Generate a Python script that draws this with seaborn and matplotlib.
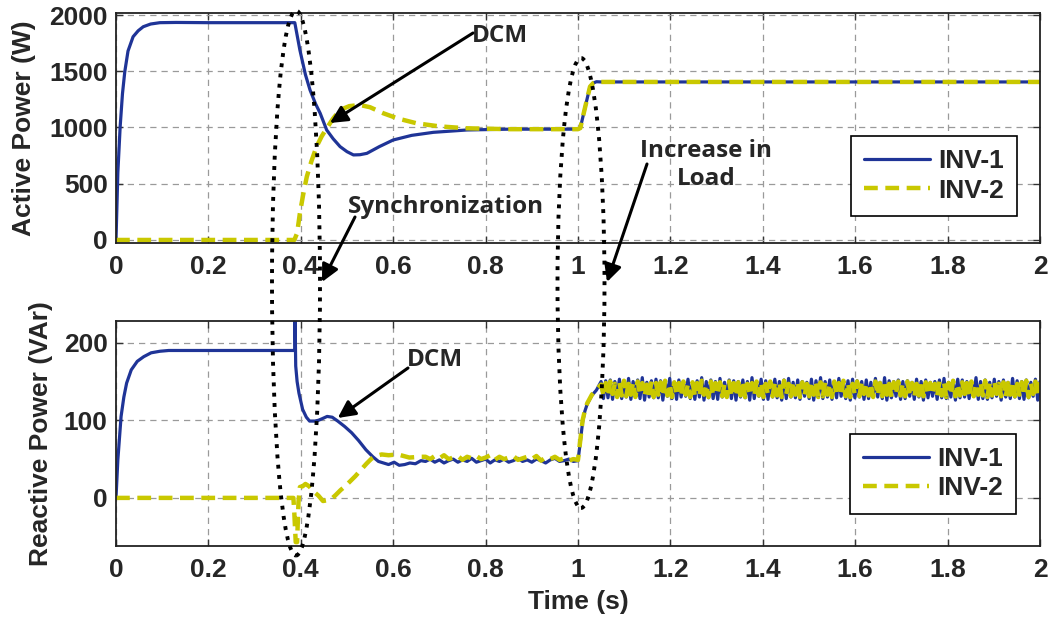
import numpy as np
import pandas as pd
import matplotlib
matplotlib.use("Agg")
import matplotlib.pyplot as plt
from matplotlib.patches import Ellipse, FancyArrowPatch
import seaborn as sns

# ---------------- Active power (W) ----------------
t_p_inv1 = [0, 0.004, 0.009, 0.014, 0.019, 0.026, 0.037, 0.048, 0.059, 0.075,
            0.095, 0.13, 0.2, 0.3, 0.387, 0.398, 0.41, 0.42, 0.432, 0.442,
            0.456, 0.47, 0.485, 0.5, 0.514, 0.528, 0.543, 0.57, 0.6, 0.64,
            0.687, 0.76, 0.85, 0.95, 1.0, 1.005, 1.012, 1.02, 1.026, 1.033,
            1.04, 1.05, 1.1, 1.3, 1.5, 1.7, 2.0]
p_inv1 = [0, 600, 1007, 1300, 1496, 1680, 1807, 1860, 1896, 1920,
          1932, 1934, 1932, 1932, 1932, 1689, 1470, 1333, 1210, 1126,
          978, 900, 830, 785, 756, 758, 770, 830, 889, 930,
          957, 978, 985, 985, 985, 995, 1120, 1260, 1363, 1395,
          1407, 1405, 1405, 1405, 1405, 1405, 1405]

t_p_inv2 = [0, 0.386, 0.392, 0.398, 0.405, 0.413, 0.423, 0.434, 0.445, 0.456,
            0.47, 0.485, 0.505, 0.528, 0.55, 0.579, 0.61, 0.651, 0.7, 0.759,
            0.85, 0.95, 1.0, 1.005, 1.012, 1.02, 1.026, 1.033, 1.04, 1.05,
            1.1, 1.3, 1.5, 1.7, 2.0]
p_inv2 = [0, 0, 60, 237, 400, 563, 700, 829, 920, 993,
          1080, 1156, 1190, 1200, 1180, 1126, 1080, 1037, 1010, 993,
          985, 985, 985, 995, 1120, 1260, 1363, 1395, 1407, 1405,
          1405, 1405, 1405, 1405, 1405]

# ---------------- Reactive power (VAr) ----------------
t_q_inv1_start = [0, 0.004, 0.011, 0.017, 0.023, 0.033, 0.046, 0.06, 0.076, 0.095,
                  0.114, 0.2, 0.3, 0.385, 0.387, 0.3875, 0.389, 0.392, 0.396, 0.404,
                  0.412, 0.419, 0.43, 0.438, 0.446, 0.457, 0.468, 0.48, 0.495, 0.51,
                  0.525, 0.541, 0.556, 0.568, 0.579, 0.59, 0.602, 0.613, 0.625, 0.636,
                  0.648, 0.66]
q_inv1_start = [0, 49, 105, 130, 148, 165, 176, 182, 187, 189,
                190, 190, 190, 190, 190, 235, 170, 150, 135, 114,
                104, 99, 99, 100, 102, 105, 104, 99, 92, 84,
                74, 62, 53, 47, 45, 43, 46, 42, 43, 45,
                44, 48]

t_q_inv2_start = [0, 0.384, 0.386, 0.389, 0.392, 0.395, 0.398, 0.404, 0.41, 0.418,
                  0.428, 0.438, 0.448, 0.458, 0.467, 0.476, 0.486, 0.496, 0.506, 0.518,
                  0.53, 0.542, 0.552, 0.562, 0.575, 0.59, 0.61, 0.635, 0.66]
q_inv2_start = [0, 0, -20, -57, -57, -5, 14, 15, 18, 15,
                8, 3, -4, -3, -1, 4, 10, 15, 21, 28,
                36, 44, 50, 54, 56, 55, 56, 52, 53]

# settled sharing before the load step (samples every 10 ms, 0.67 s .. 0.99 s)
t_settle = np.linspace(0.67, 0.99, 33)
q_inv1_settle = [47, 50, 46, 49, 45, 48, 50, 46, 49, 47, 51, 46, 48, 50, 45, 49, 47,
                 50, 46, 48, 51, 47, 49, 46, 50, 48, 45, 49, 51, 47, 48, 50, 47]
q_inv2_settle = [53, 50, 54, 51, 55, 50, 52, 54, 49, 53, 51, 54, 50, 52, 55, 49, 53,
                 50, 52, 54, 49, 51, 53, 50, 54, 48, 52, 50, 53, 49, 51, 48, 50]

# load step at t = 1 s
t_step = [1.0, 1.005, 1.01, 1.015, 1.02, 1.03, 1.04, 1.05]
q_inv1_step = [48, 72, 98, 112, 121, 132, 139, 150]
q_inv2_step = [49, 75, 100, 113, 122, 133, 140, 146]

# ripple after the load increase (1.055 s .. 2 s, 5 ms samples)
t_ripple = np.linspace(1.055, 2.0, 192)
q_inv1_ripple = [
    128, 151, 129, 152, 127, 150, 131, 153, 128, 149, 130, 154,
    127, 150, 131, 152, 128, 155, 126, 149, 130, 151, 129, 153,
    129, 151, 126, 150, 131, 154, 128, 149, 127, 152, 130, 150,
    131, 153, 128, 149, 127, 151, 130, 155, 126, 150, 129, 152,
    128, 150, 127, 154, 130, 149, 131, 152, 128, 151, 126, 150,
    130, 152, 129, 150, 126, 155, 128, 149, 131, 153, 127, 151,
    127, 149, 130, 153, 129, 150, 126, 152, 128, 154, 130, 149,
    129, 152, 127, 150, 131, 149, 128, 153, 126, 151, 130, 155,
    128, 150, 130, 152, 127, 149, 129, 154, 131, 150, 128, 151,
    126, 153, 129, 151, 130, 150, 127, 152, 128, 149, 131, 154,
    130, 149, 128, 155, 126, 151, 129, 150, 131, 152, 127, 150,
    128, 151, 131, 149, 127, 153, 130, 150, 126, 152, 129, 149,
    131, 150, 127, 152, 129, 154, 128, 149, 130, 151, 126, 153,
    129, 152, 130, 150, 128, 149, 131, 155, 127, 150, 128, 152,
    127, 149, 129, 153, 131, 150, 126, 152, 130, 149, 128, 154,
    130, 151, 128, 150, 127, 152, 129, 149, 131, 153, 126, 150]
q_inv2_ripple = [
    133, 148, 131, 150, 134, 147, 130, 149, 132, 151, 131, 147,
    133, 149, 130, 150, 134, 148, 131, 146, 132, 150, 130, 148,
    133, 149, 131, 151, 132, 147, 130, 149, 134, 148, 131, 150,
    133, 147, 130, 149, 132, 148, 131, 151, 133, 146, 130, 150,
    132, 148, 134, 149, 131, 147, 130, 150, 133, 148, 131, 149,
    132, 151, 130, 147, 134, 148, 131, 150, 132, 149, 130, 147,
    133, 150, 131, 148, 132, 149, 130, 151, 134, 147, 131, 148,
    133, 150, 130, 149, 132, 147, 131, 150, 133, 148, 130, 149,
    131, 149, 133, 147, 130, 150, 132, 148, 134, 151, 131, 148,
    130, 147, 133, 150, 131, 149, 134, 148, 132, 146, 130, 150,
    132, 148, 131, 151, 133, 147, 130, 149, 134, 150, 132, 148,
    131, 150, 133, 148, 130, 147, 132, 151, 131, 149, 133, 148,
    134, 147, 131, 150, 132, 149, 130, 148, 133, 151, 131, 147,
    132, 149, 134, 148, 130, 150, 131, 147, 133, 149, 132, 151,
    130, 148, 132, 150, 134, 147, 131, 149, 130, 148, 133, 150,
    131, 147, 133, 149, 132, 151, 130, 148, 134, 150, 131, 149]

x_ticks = [0, 0.2, 0.4, 0.6, 0.8, 1, 1.2, 1.4, 1.6, 1.8, 2]
x_tick_labels = ["0", "0.2", "0.4", "0.6", "0.8", "1", "1.2", "1.4", "1.6", "1.8", "2"]
p_ticks = [0, 500, 1000, 1500, 2000]
q_ticks = [0, 100, 200]
series_names = ["INV-1", "INV-2"]

BLUE = "#1f3497"
YELLOW = "#c9c800"

df_p1 = pd.DataFrame({"t": t_p_inv1, "v": p_inv1})
df_p2 = pd.DataFrame({"t": t_p_inv2, "v": p_inv2})
df_q1 = pd.DataFrame({
    "t": np.concatenate([t_q_inv1_start, t_settle, t_step, t_ripple]),
    "v": np.concatenate([q_inv1_start, q_inv1_settle, q_inv1_step, q_inv1_ripple])})
df_q2 = pd.DataFrame({
    "t": np.concatenate([t_q_inv2_start, t_settle, t_step, t_ripple]),
    "v": np.concatenate([q_inv2_start, q_inv2_settle, q_inv2_step, q_inv2_ripple])})

sns.set_style("ticks")
plt.rcParams["font.family"] = ["Liberation Sans", "DejaVu Sans"]
plt.rcParams["font.weight"] = "bold"
plt.rcParams["axes.labelweight"] = "bold"

W, H = 1052, 620
fig = plt.figure(figsize=(W / 100, H / 100), dpi=100)


def px_box(left, top, right, bottom):
    return [left / W, 1 - bottom / H, (right - left) / W, (bottom - top) / H]


ax1 = fig.add_axes(px_box(116, 13, 1040, 243))
ax2 = fig.add_axes(px_box(116, 321, 1040, 546))

yellow_dash = (0, (3.1, 1.7))


def draw_pair(ax, d1, d2):
    sns.lineplot(data=d1, x="t", y="v", ax=ax, color=BLUE, linewidth=2.3,
                 estimator=None, sort=False, label=series_names[0])
    sns.lineplot(data=d2, x="t", y="v", ax=ax, color=YELLOW, linewidth=3.2,
                 linestyle=yellow_dash, estimator=None, sort=False,
                 label=series_names[1])


draw_pair(ax1, df_p1, df_p2)
draw_pair(ax2, df_q1, df_q2)

ax1.set_ylim(-27, 2018)
ax2.set_ylim(-62, 228)
ax1.set_yticks(p_ticks)
ax2.set_yticks(q_ticks)

for ax in (ax1, ax2):
    ax.set_xlim(0, 2)
    ax.set_xticks(x_ticks)
    ax.set_xticklabels(x_tick_labels)
    ax.grid(True, color="#9a9a9a", linestyle=(0, (5, 4)), linewidth=0.9)
    ax.tick_params(direction="in", top=True, right=True, length=5, width=1,
                   labelsize=19, color="#333333")
    ax.tick_params(axis="x", pad=8.5)
    ax.tick_params(axis="y", pad=6)
    for lab in ax.get_xticklabels() + ax.get_yticklabels():
        lab.set_fontweight("bold")
    for s in ax.spines.values():
        s.set_color("#222222")
        s.set_linewidth(1.3)
    ax.set_xlabel("")
    leg = ax.legend(loc="upper right", fontsize=19, frameon=True, fancybox=False,
                    framealpha=1, edgecolor="black", handlelength=2.5,
                    handletextpad=0.3, labelspacing=0.2, borderpad=0.5,
                    borderaxespad=0)
    leg.get_frame().set_linewidth(1.2)
    for txt in leg.get_texts():
        txt.set_fontweight("bold")

ax1.get_legend().set_bbox_to_anchor((0.975, 0.465))
ax2.get_legend().set_bbox_to_anchor((0.974, 0.498))

ax1.set_ylabel("Active Power (W)", fontsize=19, fontweight="bold")
ax2.set_ylabel("Reactive Power (VAr)", fontsize=19, fontweight="bold")
ax1.yaxis.set_label_coords(-0.0866, 0.5)
ax2.yaxis.set_label_coords(-0.0682, 0.5)
ax2.set_xlabel("Time (s)", fontsize=19, fontweight="bold", labelpad=6)

# annotations
note_font = dict(family=["Open Sans", "DejaVu Sans"], fontweight="bold", fontsize=17.5)
arrow_kw = dict(arrowstyle="-|>", mutation_scale=26, lw=2.2, color="black",
                shrinkA=0, shrinkB=0)


def fpx(x, y):
    return (x / W, 1 - y / H)


ax1.text(0.831, 1815, "DCM", ha="center", va="center", **note_font)
ax1.annotate("", xy=(0.463, 1040), xycoords="data",
             xytext=fpx(473, 33), textcoords="figure fraction", arrowprops=arrow_kw)

ax2.text(0.69, 178, "DCM", ha="center", va="center", **note_font)
ax2.annotate("", xy=(0.48, 103), xycoords="data",
             xytext=fpx(408, 368), textcoords="figure fraction", arrowprops=arrow_kw)

fig.text(*fpx(446, 207), "Synchronization", ha="center", va="center", **note_font)
fig.add_artist(FancyArrowPatch(fpx(355, 217), fpx(322, 282),
                               transform=fig.transFigure, **arrow_kw))

fig.text(*fpx(706, 165), "Increase in\nLoad", ha="center", va="center",
         linespacing=1.25, **note_font)
fig.add_artist(FancyArrowPatch(fpx(647, 164), fpx(607, 282),
                               transform=fig.transFigure, **arrow_kw))

# dotted regions around the transients
for cx, cy, w, h in [(296, 283, 48, 545), (581, 283, 47, 450)]:
    fig.add_artist(Ellipse(fpx(cx, cy), w / W, h / H, transform=fig.transFigure,
                           fill=False, edgecolor="black", linestyle=":",
                           linewidth=2.8, zorder=10))

fig.savefig("out.png", dpi=100)
